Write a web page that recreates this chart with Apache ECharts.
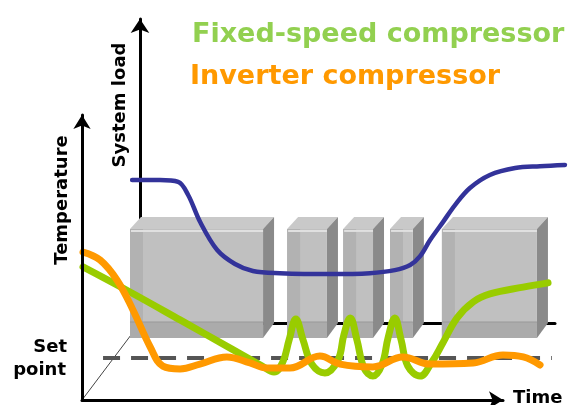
<!DOCTYPE html>
<html>
<head>
<meta charset="utf-8">
<script src="https://cdn.jsdelivr.net/npm/echarts@6/dist/echarts.min.js"></script>
<style>html,body{margin:0;padding:0;background:#fff}#c{width:579px;height:405px}</style>
</head>
<body>
<div id="c"></div>
<script>
// Fixed-speed compressor temperature (time, temperature)
var fixedTime = [0.24,11.4,23.3,35.2,42.8,45.6,47.7,49.2,50.8,52.5,54.6,57.7,60.8,62.2,63.7,65.3,67.0,69.1,71.3,72.7,74.3,75.8,77.4,80.3,83.1,85.7,89.1,92.9,96.9,104.8,110.7];
var fixedTemp = [46.7,37.9,28.1,18.2,11.9,9.8,13.3,21.1,28.4,21.1,12.6,9.5,14.0,22.8,28.8,21.1,11.2,8.4,12.6,21.8,28.8,21.1,11.9,8.4,13.3,20.0,28.8,34.4,37.2,39.6,41.1];
// Inverter compressor temperature
var inverterTime = [0.24,4.3,8.3,12.1,16.2,19.2,23.3,28.0,34.4,39.9,43.9,49.4,56.5,61.3,69.1,76.2,82.7,92.9,100.0,104.8,108.8];
var inverterTemp = [51.9,49.1,42.1,31.6,18.6,11.9,10.9,12.6,15.1,13.0,11.2,11.2,15.4,12.6,11.6,15.1,12.6,13.0,15.8,15.1,12.3];
// System load
var loadTime = [-1.9,4.8,9.2,11.6,14.5,18.6,22.9,27.2,33.7,45.8,55.4,61.4,65.1,67.5,69.9,73.0,75.9,79.5,84.3,90.4,96.4,102.4];
var loadValue = [47.0,47.0,46.4,42.1,33.2,24.0,19.4,17.1,16.4,16.1,16.4,17.4,19.1,22.0,27.3,33.2,38.8,44.4,48.7,51.0,51.6,52.0];
// Fixed-speed compressor ON periods (back plane time)
var compOnStart = [0.24,38.1,51.6,62.9,75.4];
var compOnEnd = [32.3,47.7,58.8,68.4,98.3];
var compOnLevel = 34.9;
// Set point
var setPoint = 14.7;
var setPointRange = [5.0,111.6];
// Labels
var titleFixed = 'Fixed-speed compressor';
var titleInverter = 'Inverter compressor';
var axisTemp = 'Temperature';
var axisLoad = 'System load';
var axisTime = 'Time';
var setLabel = ['Set','point'];

function zip(a,b){return a.map(function(v,i){return [v,b[i]];});}
var boxes = compOnStart.map(function(s,i){return [s,compOnEnd[i],compOnLevel];});

var FONT = '"DejaVu Sans", Verdana, sans-serif';
var chart = echarts.init(document.getElementById('c'), null, {renderer:'canvas'});
function ax(extra){return Object.assign({type:'value', min:0, max:100, axisTick:{show:false}, axisLabel:{show:false}, splitLine:{show:false}, axisLine:{show:false}}, extra);}
var blackLine = {color:'#000', width:3};
var arrowLine = {show:true, onZero:false, symbol:['none','arrow'], symbolSize:[13,14], lineStyle:blackLine};

// front plane: 4.21 px per time unit, 2.85 px per temperature unit
// back plane: 4.15 px per time unit, 3.04 px per load unit
chart.setOption({
  animation:false,
  backgroundColor:'#fff',
  grid:[
    {left:82, right:76, top:115, bottom:5},   // 0 front axes
    {left:140, right:24, top:19, bottom:82},  // 1 back axes
    {left:82, right:19, top:115, bottom:5},   // 2 front plane curves (wider)
    {left:128, right:10, top:19, bottom:82}   // 3 back plane curve (wider)
  ],
  xAxis:[
    ax({gridIndex:0, z:10, axisLine:arrowLine}),
    ax({gridIndex:1, z:0, axisLine:{show:true, onZero:false, lineStyle:blackLine}}),
    ax({gridIndex:2, max:113.54}),
    ax({gridIndex:3, min:-2.892, max:103.373})
  ],
  yAxis:[
    ax({gridIndex:0, z:10, axisLine:arrowLine}),
    ax({gridIndex:1, z:0, axisLine:{show:true, onZero:false, symbol:['none','arrow'], symbolSize:[14,14], lineStyle:blackLine}}),
    ax({gridIndex:2}),
    ax({gridIndex:3})
  ],
  series:[
    {type:'line', xAxisIndex:2, yAxisIndex:2, z:1, symbol:'none', silent:true,
     data:[[0,0],[13.78,27.0]], lineStyle:{color:'#444', width:1}},
    {type:'custom', xAxisIndex:1, yAxisIndex:1, z:2, silent:true, data:boxes,
     encode:{x:[0,1], y:2},
     renderItem:function(params, api){
       var s=api.value(0), e=api.value(1), h=api.value(2);
       var bl=api.coord([s,0]), br=api.coord([e,0]), tl=api.coord([s,h]);
       var dx=11, dyT=12, dyB=15;
       var fl=bl[0]-dx, fr=br[0]-dx, ft=tl[1]+dyT, fb=bl[1]+dyB, bt=tl[1], bb=bl[1];
       return {type:'group', children:[
         {type:'polygon', shape:{points:[[fl,ft],[fr,ft],[br[0],bt],[bl[0],bt]]}, style:{fill:'#c9c9c9'}},
         {type:'polygon', shape:{points:[[fr,ft],[br[0],bt],[br[0],bb],[fr,fb]]}, style:{fill:'#8a8a8a'}},
         {type:'rect', shape:{x:fl,y:ft,width:fr-fl,height:fb-ft}, style:{fill:'#c0c0c0'}},
         {type:'rect', shape:{x:fl,y:ft,width:bl[0]-fl+2,height:fb-ft}, style:{fill:'#b2b2b2'}},
         {type:'rect', shape:{x:fl,y:bb-1,width:fr-fl,height:fb-bb+1}, style:{fill:'#ababab'}},
         {type:'line', shape:{x1:fl,y1:bb-1,x2:fr,y2:bb-1}, style:{stroke:'#999',lineWidth:1}},
         {type:'line', shape:{x1:fl+1,y1:ft+2,x2:fr,y2:ft+2}, style:{stroke:'#e0e0e0',lineWidth:2}}
       ]};
     }},
    {type:'line', name:'System load', xAxisIndex:3, yAxisIndex:3, z:3, symbol:'none', smooth:0.35, silent:true,
     data:zip(loadTime, loadValue), lineStyle:{color:'#33339a', width:4.5, cap:'round', join:'round'}},
    {type:'line', xAxisIndex:2, yAxisIndex:2, z:3, symbol:'none', silent:true,
     data:[[setPointRange[0],setPoint],[setPointRange[1],setPoint]],
     lineStyle:{color:'#555', width:4, type:[17,11]}},
    {type:'line', name:titleFixed, xAxisIndex:2, yAxisIndex:2, z:4, symbol:'none', smooth:0.4, silent:true,
     data:zip(fixedTime, fixedTemp), lineStyle:{color:'#99cc00', width:7, cap:'round', join:'round'}},
    {type:'line', name:titleInverter, xAxisIndex:2, yAxisIndex:2, z:5, symbol:'none', smooth:0.4, silent:true,
     data:zip(inverterTime, inverterTemp), lineStyle:{color:'#ff9900', width:7, cap:'round', join:'round'}}
  ],
  graphic:[
    {type:'text', x:192, y:35, z:20, style:{text:titleFixed, fill:'#92d050', font:'bold 27px '+FONT, align:'left', verticalAlign:'middle', textAlign:'left', textVerticalAlign:'middle'}},
    {type:'text', x:190, y:77, z:20, style:{text:titleInverter, fill:'#ff9900', font:'bold 27px '+FONT, align:'left', verticalAlign:'middle', textAlign:'left', textVerticalAlign:'middle'}},
    {type:'text', x:120, y:105, rotation:Math.PI/2, z:20, style:{text:axisLoad, fill:'#000', font:'bold 18px '+FONT, align:'center', verticalAlign:'middle', textAlign:'center', textVerticalAlign:'middle'}},
    {type:'text', x:62, y:200, rotation:Math.PI/2, z:20, style:{text:axisTemp, fill:'#000', font:'bold 18px '+FONT, align:'center', verticalAlign:'middle', textAlign:'center', textVerticalAlign:'middle'}},
    {type:'text', x:67, y:347, z:20, style:{text:setLabel[0], fill:'#000', font:'bold 18px '+FONT, align:'right', verticalAlign:'middle', textAlign:'right', textVerticalAlign:'middle'}},
    {type:'text', x:66, y:370, z:20, style:{text:setLabel[1], fill:'#000', font:'bold 18px '+FONT, align:'right', verticalAlign:'middle', textAlign:'right', textVerticalAlign:'middle'}},
    {type:'text', x:513, y:398, z:20, style:{text:axisTime, fill:'#000', font:'bold 18px '+FONT, align:'left', verticalAlign:'middle', textAlign:'left', textVerticalAlign:'middle'}}
  ]
});
</script>
</body>
</html>
